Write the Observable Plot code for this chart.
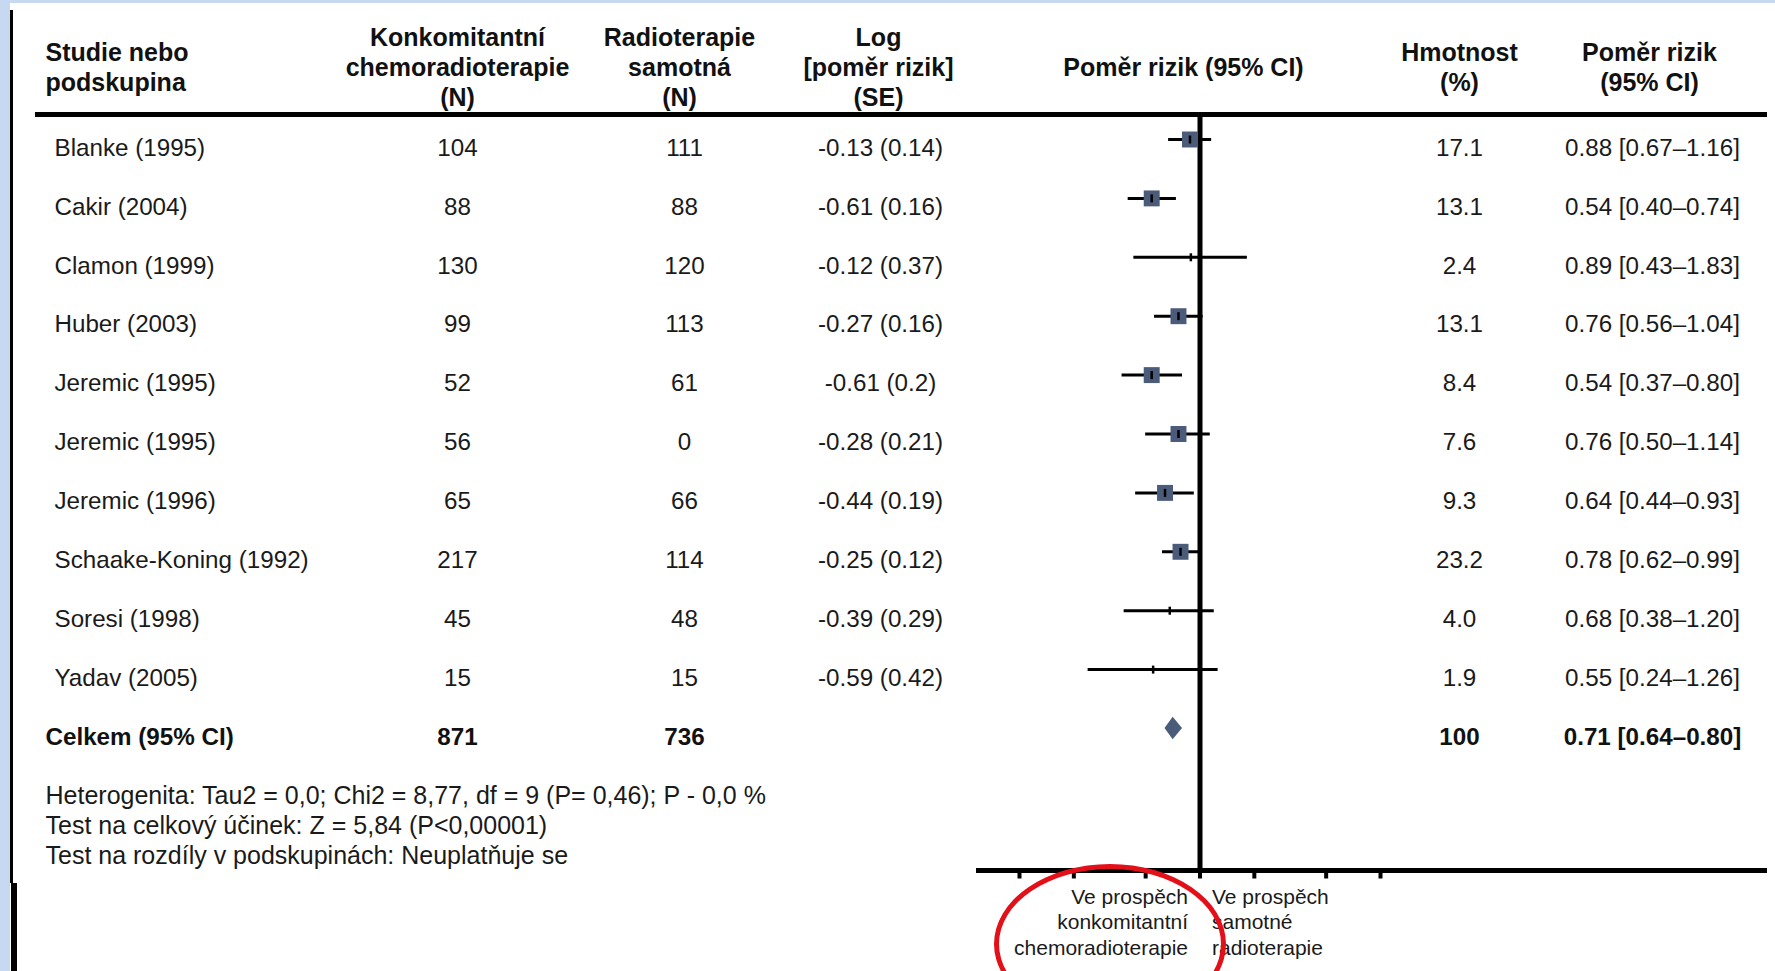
<!DOCTYPE html>
<html>
<head>
<meta charset="utf-8">
<script src="https://cdn.jsdelivr.net/npm/d3@7"></script>
<script src="https://cdn.jsdelivr.net/npm/@observablehq/plot@0.6"></script>
<style>
  html, body { margin: 0; padding: 0; background: #fff; }
  #page { position: relative; width: 1775px; height: 971px; overflow: hidden; background: #fff; }
  .deco { position: absolute; }
  #chart { position: absolute; left: 0; top: 0; }
</style>
</head>
<body>
<div id="page">
  <div class="deco" style="left:0;top:0;width:1775px;height:3px;background:#c6d9f1"></div>
  <div class="deco" style="left:0;top:0;width:10px;height:971px;background:#c6d9f1"></div>
  <div class="deco" style="left:10px;top:10px;width:3px;height:873px;background:#000"></div>
  <div class="deco" style="left:11px;top:883px;width:6px;height:88px;background:#000"></div>
  <div id="chart"></div>
  <div class="deco" style="left:994px;top:864px;width:232px;height:160px;border:5px solid #e3101a;border-radius:50%;box-sizing:border-box"></div>
</div>
<script>
// ---------------- DATA ----------------
const studies = ["Blanke (1995)", "Cakir (2004)", "Clamon (1999)", "Huber (2003)", "Jeremic (1995)",
                 "Jeremic (1995)", "Jeremic (1996)", "Schaake-Koning (1992)", "Soresi (1998)", "Yadav (2005)"];
const nChemo  = [104, 88, 130, 99, 52, 56, 65, 217, 45, 15];
const nRadio  = [111, 88, 120, 113, 61, 0, 66, 114, 48, 15];
const logHR   = [-0.13, -0.61, -0.12, -0.27, -0.61, -0.28, -0.44, -0.25, -0.39, -0.59];
const seLog   = [0.14, 0.16, 0.37, 0.16, 0.2, 0.21, 0.19, 0.12, 0.29, 0.42];
const weights = [17.1, 13.1, 2.4, 13.1, 8.4, 7.6, 9.3, 23.2, 4.0, 1.9];
const hr      = [0.88, 0.54, 0.89, 0.76, 0.54, 0.76, 0.64, 0.78, 0.68, 0.55];
const hrLow   = [0.67, 0.40, 0.43, 0.56, 0.37, 0.50, 0.44, 0.62, 0.38, 0.24];
const hrHigh  = [1.16, 0.74, 1.83, 1.04, 0.80, 1.14, 0.93, 0.99, 1.20, 1.26];

const totalLabel = "Celkem (95% CI)";
const totalNChemo = 871;
const totalNRadio = 736;
const totalWeight = 100;
const totalHR = 0.71;
const totalLow = 0.64;
const totalHigh = 0.80;

const headerLabels = ["Studie nebo\npodskupina", "Konkomitantní\nchemoradioterapie\n(N)",
                      "Radioterapie\nsamotná\n(N)", "Log\n[poměr rizik]\n(SE)",
                      "Poměr rizik (95% CI)", "Hmotnost\n(%)", "Poměr rizik\n(95% CI)"];
const footnotes = ["Heterogenita: Tau2 = 0,0; Chi2 = 8,77, df = 9 (P= 0,46); P - 0,0 %",
                   "Test na celkový účinek: Z = 5,84 (P<0,00001)",
                   "Test na rozdíly v podskupinách: Neuplatňuje se"];
const favourLeft = "Ve prospěch\nkonkomitantní\nchemoradioterapie";
const favourRight = "Ve prospěch\nsamotné\nradioterapie";
const axisTicks = [0.1, 0.2, 0.5, 1, 2, 5, 10];
const nullEffect = 1;

// ---------------- LAYOUT ----------------
const W = 1775, H = 971;
const M = {top: 114, right: 11, bottom: 101, left: 37};
const headerX = [45, 457, 679, 878, 1183, 1459, 1649];
const headerAnchor = ["start", "middle", "middle", "middle", "middle", "middle", "middle"];
const colX = {study: 54, total: 45, n1: 457, n2: 684, log: 880, weight: 1459, ci: 1652, foot: 45};
const INK = "#1a1a1a";
const BOX = "#4b5c7b";
const FONT = "'Liberation Sans', Arial, Helvetica, sans-serif";

const fmt2 = v => v.toFixed(2);
const ciText = (h, l, u) => `${fmt2(h)} [${fmt2(l)}–${fmt2(u)}]`;

const rows = studies.map((s, i) => ({
  i, study: s, n1: nChemo[i], n2: nRadio[i],
  logText: `${logHR[i]} (${seLog[i]})`,
  w: weights[i], wText: weights[i].toFixed(1),
  hr: hr[i], lo: hrLow[i], hi: hrHigh[i],
  ciText: ciText(hr[i], hrLow[i], hrHigh[i])
}));
const totalRow = studies.length;
const totals = [{i: totalRow, label: totalLabel, n1: totalNChemo, n2: totalNRadio,
                 wText: String(totalWeight), ciText: ciText(totalHR, totalLow, totalHigh)}];

const dh = 0.19;
const diamond = [
  {x: totalLow, y1: totalRow, y2: totalRow},
  {x: totalHR, y1: totalRow - dh, y2: totalRow + dh},
  {x: totalHigh, y1: totalRow, y2: totalRow}
];

const estTick = {draw(ctx) { ctx.moveTo(0, -4); ctx.lineTo(0, 4); }};
const axisTick = {draw(ctx) { ctx.moveTo(0, 0); ctx.lineTo(0, 8); }};

const bodyText = {frameAnchor: "left", fontSize: 24.2, fill: INK, dy: 8.5};
const col = (data, text, x, anchor, extra = {}) =>
  Plot.text(data, {y: "i", text, dx: x - M.left, textAnchor: anchor, ...bodyText, ...extra});

const headerMarks = headerLabels.map((label, k) =>
  Plot.text([label], {
    text: d => d, frameAnchor: "top-left", dx: headerX[k] - M.left, dy: 66 - M.top,
    textAnchor: headerAnchor[k], lineAnchor: "middle", lineHeight: 1.2,
    fontSize: 25, fontWeight: "bold", fill: "#111"
  })
);

const bold = {fontWeight: "bold", fill: "#111"};

const chart = Plot.plot({
  width: W, height: H,
  marginTop: M.top, marginRight: M.right, marginBottom: M.bottom, marginLeft: M.left,
  style: {fontFamily: FONT, background: "transparent", overflow: "visible"},
  x: {type: "log", domain: [0.1, 10], range: [1019, 1380], axis: null},
  y: {domain: [0, 10], range: [139, 728], axis: null},
  marks: [
    ...headerMarks,
    Plot.frame({anchor: "top", stroke: "#000", strokeWidth: 5}),
    // table columns
    col(rows, "study", colX.study, "start"),
    col(rows, "n1", colX.n1, "middle"),
    col(rows, "n2", colX.n2, "middle"),
    col(rows, "logText", colX.log, "middle"),
    col(rows, "wText", colX.weight, "middle"),
    col(rows, "ciText", colX.ci, "middle"),
    col(totals, "label", colX.total, "start", bold),
    col(totals, "n1", colX.n1, "middle", bold),
    col(totals, "n2", colX.n2, "middle", bold),
    col(totals, "wText", colX.weight, "middle", bold),
    col(totals, "ciText", colX.ci, "middle", bold),
    // footnotes
    Plot.text([footnotes.join("\n")], {
      text: d => d, frameAnchor: "bottom-left", dx: colX.foot - M.left, dy: -46,
      textAnchor: "start", lineAnchor: "middle", lineHeight: 1.2, fontSize: 25, fill: INK
    }),
    // forest plot
    Plot.ruleX([nullEffect], {x: d => d, stroke: "#000", strokeWidth: 5}),
    Plot.ruleY(rows, {y: "i", x1: "lo", x2: "hi", stroke: "#000", strokeWidth: 3}),
    Plot.dot(rows.filter(d => d.w >= 5), {x: "hr", y: "i", symbol: "square", r: 9, fill: BOX, stroke: "none"}),
    Plot.dot(rows, {x: "hr", y: "i", symbol: estTick, fill: "none", stroke: "#000", strokeWidth: 2.5}),
    Plot.area(diamond, {x1: "x", y1: "y1", y2: "y2", fill: BOX}),
    // axis
    Plot.frame({anchor: "bottom", insetLeft: 941, stroke: "#000", strokeWidth: 5}),
    Plot.dot(axisTicks, {x: d => d, frameAnchor: "bottom", symbol: axisTick, fill: "none", stroke: "#000", strokeWidth: 4}),
    Plot.text([favourLeft], {x: () => nullEffect, text: d => d, frameAnchor: "bottom", dx: -12, dy: 15,
      textAnchor: "end", lineAnchor: "top", lineHeight: 1.22, fontSize: 21, fill: INK}),
    Plot.text([favourRight], {x: () => nullEffect, text: d => d, frameAnchor: "bottom", dx: 12, dy: 15,
      textAnchor: "start", lineAnchor: "top", lineHeight: 1.22, fontSize: 21, fill: INK})
  ]
});
document.getElementById("chart").appendChild(chart);
</script>
</body>
</html>
